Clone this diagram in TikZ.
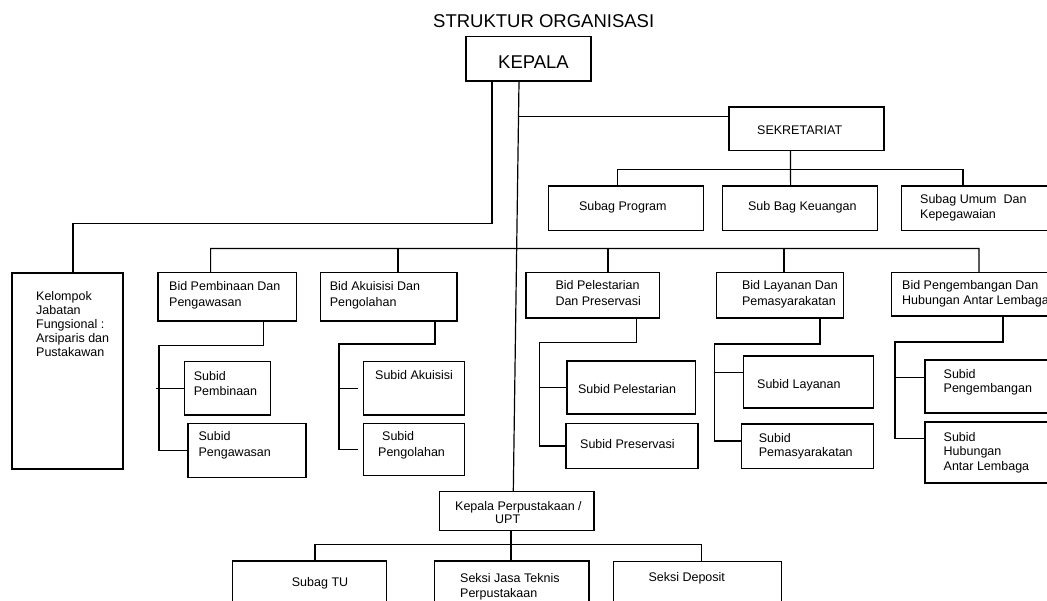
\documentclass[tikz,border=0pt]{standalone}
\usepackage{fontspec}
\setmainfont{Liberation Sans}
\usetikzlibrary{fit,calc}
\tikzset{
  box/.style={draw, line width=1.2pt, inner sep=0pt},
  ln/.style={line width=1.2pt},
  txt/.style={inner sep=0pt, anchor=base west, align=left, font=\fontsize{12.5}{15}\selectfont},
  big/.style={inner sep=0pt, anchor=base west, font=\fontsize{18.5}{22}\selectfont}
}
\begin{document}
\begin{tikzpicture}[x=1pt,y=-1pt]
\fill[white] (0,0) rectangle (1047,600);
\useasboundingbox (0,0) rectangle (1047,600);
\clip (0,0) rectangle (1047,600);

% title and head
\node[big] (title) at (433,27.5) {STRUKTUR ORGANISASI};
\node[box, fit={(466,36.5) (591,81)}] (kepala) {};
\node[big] (kepalat) at (498,68.5) {KEPALA};

% sekretariat
\node[box, fit={(729,107) (884,150.6)}] (sek) {};
\node[txt] (sekt) at (757,134) {SEKRETARIAT};
\node[box, fit={(548.6,186) (703.5,230.6)}] (sprog) {};
\node[txt] (sprogt) at (578.8,210) {Subag Program};
\node[box, fit={(722.7,186) (877.3,230.6)}] (keu) {};
\node[txt] (keut) at (747.9,210) {Sub Bag Keuangan};
\node[box, fit={(901.5,186) (1060,230.6)}] (sumum) {};
\node[txt, font=\fontsize{12.5}{15.5}\selectfont] (sumumt) at (920,218.5) {Subag Umum\ \ Dan\\Kepegawaian};

% kelompok
\node[box, fit={(12,273) (123,469)}] (kel) {};
\node[txt, font=\fontsize{12.5}{14.1}\selectfont] (kelt) at (36,356.4) {Kelompok\\Jabatan\\Fungsional :\\Arsiparis dan\\Pustakawan};

% bidang
\node[box, fit={(158,272.8) (296.5,321)}] (bp) {};
\node[txt, font=\fontsize{12.5}{16}\selectfont] (bpt) at (169,306) {Bid Pembinaan Dan\\Pengawasan};
\node[box, fit={(320.5,272.8) (457,321)}] (ba) {};
\node[txt, font=\fontsize{12.5}{16}\selectfont] (bat) at (329.6,306) {Bid Akuisisi Dan\\Pengolahan};
\node[box, fit={(526,272.6) (659.5,318)}] (bpl) {};
\node[txt, font=\fontsize{12.5}{15.8}\selectfont] (bplt) at (555.3,305.5) {Bid Pelestarian\\Dan Preservasi};
\node[box, fit={(716.6,272.6) (843.4,318)}] (bl) {};
\node[txt, font=\fontsize{12.5}{15.8}\selectfont] (blt) at (741.8,305.5) {Bid Layanan Dan\\Pemasyarakatan};
\node[box, fit={(891.6,272.7) (1070,316)}] (bpg) {};
\node[txt] (bpgt) at (902,304.5) {Bid Pengembangan Dan\\Hubungan Antar Lembaga};

% subbidang
\node[box, fit={(184.6,361.7) (270.5,415)}] (spb) {};
\node[txt, font=\fontsize{12.5}{15.5}\selectfont] (spbt) at (193.7,395.5) {Subid\\Pembinaan};
\node[box, fit={(188,423.6) (306,477.7)}] (spw) {};
\node[txt, font=\fontsize{12.5}{16}\selectfont] (spwt) at (198.4,456) {Subid\\Pengawasan};
\node[box, fit={(363.4,361.7) (464.8,415)}] (sak) {};
\node[txt] (sakt) at (375,379.6) {Subid Akuisisi};
\node[box, fit={(363.4,423.6) (464.8,475.6)}] (spo) {};
\node[txt, font=\fontsize{12.5}{16}\selectfont] (spot) at (378,456) {\hspace*{4pt}Subid\\Pengolahan};
\node[box, fit={(567,361) (695.5,414)}] (spl) {};
\node[txt] (splt) at (577.8,393) {Subid Pelestarian};
\node[box, fit={(566,423.2) (698,468.6)}] (spr) {};
\node[txt] (sprt) at (580,448.4) {Subid Preservasi};
\node[box, fit={(743.5,356) (873.6,408)}] (sly) {};
\node[txt] (slyt) at (757,388) {Subid Layanan};
\node[box, fit={(741.8,424) (873.6,468.6)}] (spm) {};
\node[txt, font=\fontsize{12.5}{14.1}\selectfont] (spmt) at (758.7,456.8) {Subid\\Pemasyarakatan};
\node[box, fit={(925,360) (1070,413)}] (spe) {};
\node[txt, font=\fontsize{12.5}{14}\selectfont] (spet) at (943.5,392) {Subid\\Pengembangan};
\node[box, fit={(925,422) (1070,483)}] (shb) {};
\node[txt, font=\fontsize{12.5}{14.5}\selectfont] (shbt) at (943.5,470) {Subid\\Hubungan\\Antar Lembaga};

% UPT
\node[box, fit={(439.3,491.7) (594,530.7)}] (kp) {};
\node[txt, font=\fontsize{12.5}{13.3}\selectfont] (kpt) at (455,523.3) {Kepala Perpustakaan /\\\hspace*{40pt}UPT};
\node[box, fit={(232.7,561) (386.7,615)}] (stu) {};
\node[txt] (stut) at (291.7,586.7) {Subag TU};
\node[box, fit={(434.3,561) (589,615)}] (sjt) {};
\node[txt] (sjtt) at (460,597.3) {Seksi Jasa Teknis\\Perpustakaan};
\node[box, fit={(613.5,561.5) (781.7,615)}] (sdp) {};
\node[txt] (sdpt) at (648.3,581.7) {Seksi Deposit};

% connectors from KEPALA
\draw[ln] ([xshift=-36.5pt]kepala.south) -- ++(0,141.5) -| ([xshift=5.5pt]kel.north);
\draw[ln] ([xshift=-9.5pt]kepala.south) -- ([xshift=-3.35pt]kp.north);
\coordinate (j1) at (518.5,116.6);
\draw[ln] (j1) -- (j1 -| sek.west);

% sekretariat children
\draw[ln] ([xshift=-16pt]sek.south) -- ([xshift=-9.4pt]keu.north);
\draw[ln] ([xshift=-8.5pt]sprog.north) -- ++(0,-16) -| ([xshift=-17.75pt]sumum.north);

% bidang bus
\coordinate (bus) at (0,248.5);
\draw[ln] ([xshift=-16.65pt]bp.north) |- (bus -| 979,0) -- ([xshift=-1.75pt]bpg.north);
\draw[ln] ([xshift=9.25pt]ba.north) -- ([xshift=9.25pt]ba.north |- bus);
\draw[ln] ([xshift=15.25pt]bpl.north) -- ([xshift=15.25pt]bpl.north |- bus);
\draw[ln] ([xshift=4pt]bl.north) -- ([xshift=4pt]bl.north |- bus);

% bid pembinaan
\draw[ln] ([xshift=36.45pt]bp.south) |- (159,345.8) |- (spw.west);
\draw[ln] ([xshift=-27.6pt]spb.west) -- (spb.west);
% bid akuisisi
\draw[ln] ([xshift=46.25pt]ba.south) |- (339,344) |- ([xshift=-5pt]spo.west);
\draw[ln] ([xshift=-24.4pt]sak.west) -- ([xshift=-4.4pt]sak.west);
% bid pelestarian
\draw[ln] ([xshift=43.85pt]bpl.south) |- (539.5,342.5) |- (spr.west);
\draw[ln] ([xshift=-27.5pt]spl.west) -- (spl.west);
% bid layanan
\draw[ln] ([xshift=40pt]bl.south) |- (714.3,344) |- ([yshift=5.3pt]spm.west);
\draw[ln] ([xshift=-29.2pt,yshift=9.2pt]sly.west) -- ([yshift=9.2pt]sly.west);
% bid pengembangan
\draw[ln] ([xshift=22.2pt]bpg.south) |- (895,342) |- ([yshift=14pt]shb.west);
\draw[ln] ([xshift=-30pt,yshift=9pt]spe.west) -- ([yshift=9pt]spe.west);

% UPT children
\draw[ln] ([xshift=-5.65pt]kp.south) -- ([xshift=-0.65pt]sjt.north);
\draw[ln] ([xshift=5.3pt]stu.north) -- ++(0,-16) -| ([xshift=4.1pt]sdp.north);
\end{tikzpicture}
\end{document}
